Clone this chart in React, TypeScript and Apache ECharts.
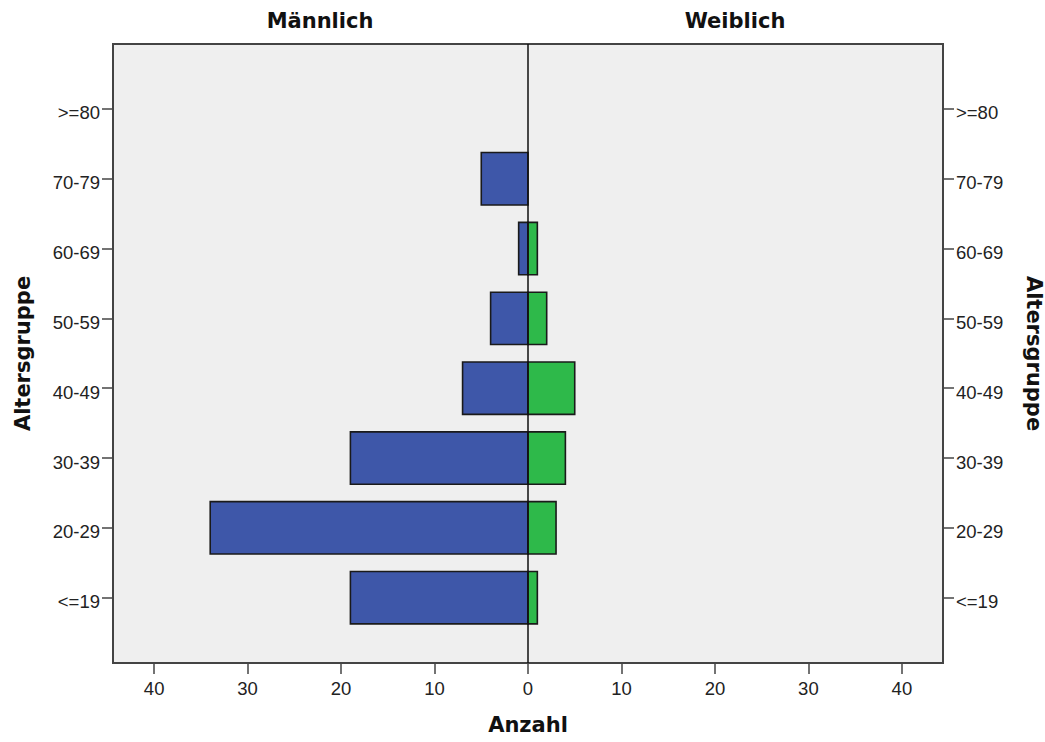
import React, { useEffect, useRef } from "react";
import * as echarts from "echarts";

const ageGroups = ["<=19", "20-29", "30-39", "40-49", "50-59", "60-69", "70-79", ">=80"];
const maleCounts = [19, 34, 19, 7, 4, 1, 5, 0];
const femaleCounts = [1, 3, 4, 5, 2, 1, 0, 0];
const xTicks = [-40, -30, -20, -10, 0, 10, 20, 30, 40];
const yTicks = [1, 2, 3, 4, 5, 6, 7, 8];

const BAR_H = 0.75;
const LABEL_FONT = "Liberation Sans, Arial, sans-serif";
const TITLE_FONT = "DejaVu Sans, Verdana, sans-serif";

function barRenderer(fill: string) {
  return (params: any, api: any) => {
    const v = api.value(0);
    const y = api.value(1);
    if (!v) return null;
    const p0 = api.coord([0, y]);
    const p1 = api.coord([v, y]);
    const h = api.size([0, BAR_H])[1];
    return {
      type: "rect",
      shape: {
        x: Math.min(p0[0], p1[0]),
        y: p0[1] - h / 2,
        width: Math.abs(p1[0] - p0[0]),
        height: h,
      },
      style: { fill, stroke: "#1a1a1a", lineWidth: 1.6 },
    };
  };
}

export default function App() {
  const ref = useRef<HTMLDivElement>(null);
  useEffect(() => {
    if (!ref.current) return;
    const chart = echarts.init(ref.current, null, { renderer: "svg" });
    const yMin = 0.064;
    const yMax = 8.93;
    const yAxisCommon = {
      type: "value",
      min: yMin,
      max: yMax,
      splitLine: { show: false },
      axisLine: { show: true, onZero: false, lineStyle: { color: "#444", width: 2 } },
      axisTick: { show: true, length: 11, customValues: yTicks, lineStyle: { color: "#444", width: 1.5 } },
      nameLocation: "middle",
      nameTextStyle: { fontFamily: TITLE_FONT, fontWeight: "bold", fontSize: 21, color: "#111" },
    };
    const fmt = (v: number) => ageGroups[Math.round(v) - 1] ?? "";
    const yLabel = {
      customValues: yTicks,
      formatter: fmt,
      fontFamily: LABEL_FONT,
      fontSize: 18.5,
      color: "#222",
      margin: 13,
      verticalAlign: "top",
      lineHeight: 8,
    };
    chart.setOption({
      animation: false,
      backgroundColor: "#ffffff",
      grid: {
        left: 113,
        right: 102,
        top: 44,
        bottom: 79,
        show: true,
        backgroundColor: "#efefef",
        borderColor: "#444",
        borderWidth: 2,
        outerBoundsMode: "none",
        containLabel: false,
      },
      graphic: [
        {
          type: "text",
          x: 320,
          y: 21,
          style: {
            text: "Männlich",
            font: `bold 21px ${TITLE_FONT}`,
            fill: "#111",
            textAlign: "center",
            textVerticalAlign: "middle",
          },
        },
        {
          type: "text",
          x: 735,
          y: 21,
          style: {
            text: "Weiblich",
            font: `bold 21px ${TITLE_FONT}`,
            fill: "#111",
            textAlign: "center",
            textVerticalAlign: "middle",
          },
        },
      ],
      xAxis: {
        type: "value",
        min: -44.4,
        max: 44.4,
        splitLine: { show: false },
        axisLine: { show: true, onZero: false, lineStyle: { color: "#444", width: 2 } },
        axisTick: { show: true, length: 11, customValues: xTicks, lineStyle: { color: "#444", width: 1.5 } },
        axisLabel: {
          customValues: xTicks,
          formatter: (v: number) => String(Math.abs(v)),
          fontFamily: LABEL_FONT,
          fontSize: 18.5,
          color: "#222",
          margin: 16,
        },
        name: "Anzahl",
        nameLocation: "middle",
        nameGap: 51,
        nameTextStyle: { fontFamily: TITLE_FONT, fontWeight: "bold", fontSize: 21, color: "#111" },
      },
      yAxis: [
        {
          ...yAxisCommon,
          position: "left",
          axisLabel: yLabel,
          name: "Altersgruppe",
          nameRotate: 90,
          nameGap: 80,
        },
        {
          ...yAxisCommon,
          position: "right",
          axisLabel: yLabel,
          name: "Altersgruppe",
          nameRotate: -90,
          nameGap: 80,
        },
      ],
      series: [
        {
          type: "custom",
          name: "Männlich",
          renderItem: barRenderer("#3e57a9"),
          data: maleCounts.map((v, i) => [-v, i + 1]),
          encode: { x: 0, y: 1 },
          z: 2,
        },
        {
          type: "custom",
          name: "Weiblich",
          renderItem: barRenderer("#2eb94a"),
          data: femaleCounts.map((v, i) => [v, i + 1]),
          encode: { x: 0, y: 1 },
          z: 2,
        },
        {
          type: "line",
          data: [
            [0, yMin],
            [0, yMax],
          ],
          symbol: "none",
          lineStyle: { color: "#111", width: 1.5 },
          z: 5,
        },
      ],
    });
    return () => chart.dispose();
  }, []);
  return (
    <div
      ref={ref}
      style={{ position: "absolute", left: 0, top: 0, width: 1045, height: 742 }}
    />
  );
}
